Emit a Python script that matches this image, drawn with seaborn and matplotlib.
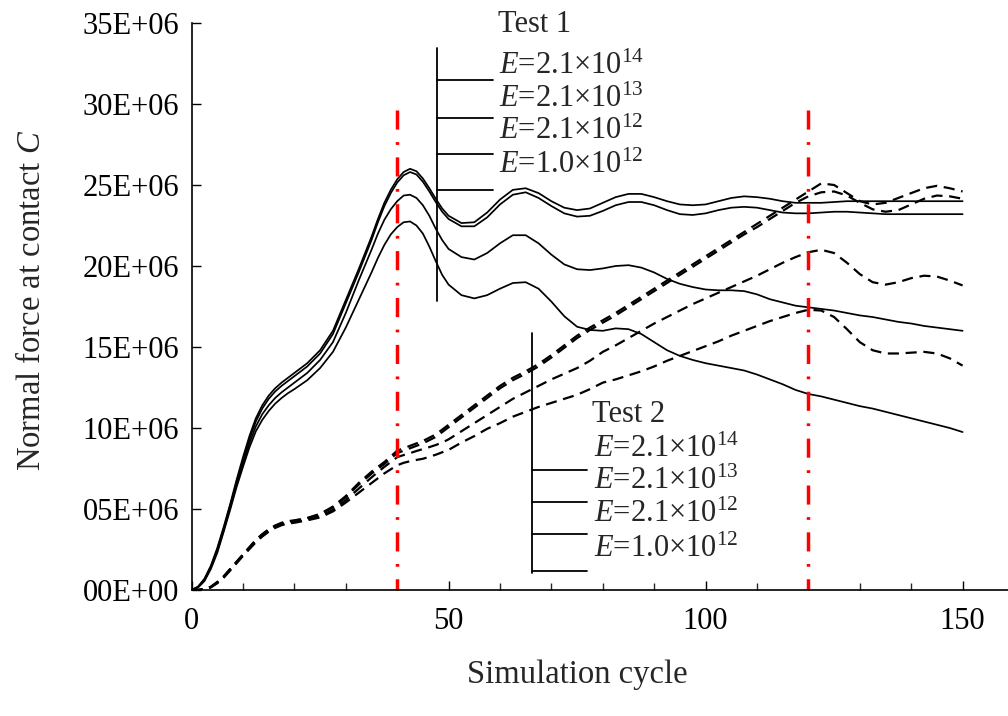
import numpy as np
import pandas as pd
import matplotlib
matplotlib.use("Agg")
import matplotlib.pyplot as plt
import seaborn as sns

# ---------------- data ----------------
cycle = [0, 1.25, 2.5, 3.75, 5, 6.25, 7.5, 8.75, 10, 11.25, 12.5, 13.75, 15, 16.25, 17.5, 18.75, 20,
         22.5, 25, 27.5, 30, 32.5, 35,
         36.25, 37.5, 38.75, 40, 41.25, 42.5, 43.75, 45, 46.25, 47.5, 48.75, 50,
         52.5, 55, 57.5, 60, 62.5, 65, 67.5, 70, 72.5, 75,
         77.5, 80, 82.5, 85, 87.5, 90, 92.5, 95, 97.5, 100,
         102.5, 105, 107.5, 110, 112.5, 115, 117.5, 120, 122.5, 125,
         127.5, 130, 132.5, 135, 137.5, 140, 142.5, 145, 147.5, 150]

# Test 1 (solid lines), values in units of 1E+06
t1_e14 = [0, 0.2, 0.7, 1.5, 2.6, 3.9, 5.3, 6.8, 8.2, 9.5, 10.6, 11.4, 12.0, 12.45, 12.8, 13.1, 13.4,
          14.0, 14.8, 16.0, 17.9, 19.8, 21.8,
          22.9, 23.9, 24.7, 25.35, 25.8, 26.0, 25.85, 25.4, 24.8, 24.15, 23.55, 23.1,
          22.65, 22.7, 23.3, 24.1, 24.7, 24.8, 24.5, 24.0, 23.6, 23.45,
          23.55, 23.9, 24.25, 24.45, 24.45, 24.25, 24.0, 23.8, 23.75, 23.8,
          24.0, 24.2, 24.3, 24.25, 24.15, 24.0, 23.9, 23.9, 23.9, 23.95,
          24.0, 24.0, 24.0, 24.0, 24.0, 24.0, 24.0, 24.0, 24.0, 24.0]
t1_e13 = [0, 0.2, 0.65, 1.45, 2.5, 3.8, 5.2, 6.65, 8.0, 9.3, 10.4, 11.2, 11.8, 12.25, 12.6, 12.9, 13.2,
          13.8, 14.6, 15.8, 17.7, 19.6, 21.6,
          22.7, 23.7, 24.5, 25.15, 25.6, 25.8, 25.65, 25.2, 24.6, 23.95, 23.35, 22.9,
          22.45, 22.45, 23.0, 23.8, 24.4, 24.55, 24.2, 23.7, 23.25, 23.05,
          23.1, 23.4, 23.75, 23.95, 23.95, 23.75, 23.45, 23.2, 23.15, 23.25,
          23.45, 23.6, 23.65, 23.6, 23.45, 23.3, 23.25, 23.25, 23.3, 23.35,
          23.35, 23.3, 23.25, 23.2, 23.2, 23.2, 23.2, 23.2, 23.2, 23.2]
t1_e12 = [0, 0.18, 0.6, 1.4, 2.4, 3.7, 5.05, 6.5, 7.8, 9.05, 10.1, 10.85, 11.4, 11.85, 12.2, 12.5, 12.8,
          13.4, 14.2, 15.3, 17.1, 19.1, 21.0,
          22.0, 22.85, 23.5, 24.0, 24.35, 24.4, 24.2, 23.75, 23.1, 22.3, 21.6, 21.05,
          20.55, 20.4, 20.8, 21.4, 21.9, 21.9, 21.4, 20.7, 20.1, 19.8,
          19.75, 19.85, 20.0, 20.05, 19.9, 19.6, 19.2, 18.9, 18.7, 18.55,
          18.5, 18.5, 18.45, 18.25, 17.95, 17.75, 17.55, 17.45, 17.35, 17.25,
          17.1, 16.95, 16.85, 16.7, 16.55, 16.45, 16.3, 16.2, 16.1, 16.0]
t1_e12b = [0, 0.15, 0.55, 1.3, 2.3, 3.6, 4.95, 6.35, 7.6, 8.8, 9.8, 10.5, 11.05, 11.5, 11.85, 12.15, 12.4,
           12.95, 13.7, 14.7, 16.2, 17.9, 19.6,
           20.5, 21.3, 21.95, 22.4, 22.7, 22.75, 22.5, 22.0, 21.2, 20.3, 19.45, 18.85,
           18.2, 18.0, 18.2, 18.6, 18.95, 19.0, 18.6, 17.8, 16.9, 16.25,
           16.05, 16.0, 16.15, 16.1, 15.8, 15.3, 14.8, 14.45, 14.2, 14.0,
           13.85, 13.7, 13.55, 13.3, 13.0, 12.7, 12.35, 12.1, 11.95, 11.75,
           11.55, 11.35, 11.2, 11.0, 10.8, 10.6, 10.4, 10.2, 10.0, 9.75]

# Test 2 (dashed lines), values in units of 1E+06
t2_e14 = [0, 0.0, 0.05, 0.2, 0.5, 0.85, 1.3, 1.75, 2.2, 2.65, 3.1, 3.45, 3.75, 3.98, 4.15, 4.25, 4.3,
          4.45, 4.7, 5.15, 5.8, 6.6, 7.3,
          7.6, 7.9, 8.25, 8.6, 8.75, 8.9, 9.05, 9.2, 9.4, 9.6, 9.9, 10.2,
          10.8, 11.4, 12.0, 12.6, 13.1, 13.5, 13.95, 14.5, 15.1, 15.7,
          16.2, 16.65, 17.1, 17.6, 18.1, 18.6, 19.1, 19.6, 20.1, 20.6,
          21.1, 21.6, 22.1, 22.6, 23.1, 23.6, 24.1, 24.6, 25.1, 25.0,
          24.5, 24.0, 23.8, 23.9, 24.2, 24.5, 24.8, 24.95, 24.8, 24.6]
t2_e13 = [0, 0.0, 0.05, 0.19, 0.48, 0.83, 1.28, 1.72, 2.18, 2.62, 3.07, 3.42, 3.72, 3.95, 4.12, 4.22, 4.27,
          4.42, 4.66, 5.1, 5.72, 6.5, 7.18,
          7.48, 7.78, 8.12, 8.45, 8.6, 8.75, 8.9, 9.05, 9.25, 9.45, 9.75, 10.05,
          10.65, 11.25, 11.85, 12.45, 12.95, 13.35, 13.8, 14.35, 14.95, 15.55,
          16.05, 16.5, 16.95, 17.45, 17.95, 18.45, 18.95, 19.45, 19.95, 20.45,
          20.95, 21.45, 21.95, 22.4, 22.9, 23.4, 23.9, 24.3, 24.55, 24.6,
          24.35, 23.9, 23.5, 23.35, 23.45, 23.8, 24.15, 24.35, 24.3, 24.15]
t2_e12 = [0, 0.0, 0.05, 0.18, 0.45, 0.8, 1.25, 1.7, 2.15, 2.58, 3.0, 3.35, 3.65, 3.88, 4.05, 4.15, 4.2,
          4.35, 4.55, 4.95, 5.55, 6.25, 6.95,
          7.28, 7.6, 7.9, 8.2, 8.33, 8.45, 8.58, 8.7, 8.82, 8.95, 9.1, 9.3,
          9.8, 10.3, 10.8, 11.3, 11.8, 12.2, 12.6, 13.0, 13.35, 13.7,
          14.15, 14.7, 15.1, 15.55, 16.0, 16.45, 16.85, 17.25, 17.65, 18.0,
          18.35, 18.7, 19.05, 19.4, 19.8, 20.2, 20.55, 20.85, 21.0, 20.8,
          20.2, 19.5, 19.0, 18.85, 19.0, 19.25, 19.4, 19.35, 19.1, 18.8]
t2_e12b = [0, 0.0, 0.04, 0.16, 0.42, 0.76, 1.2, 1.65, 2.1, 2.52, 2.95, 3.3, 3.6, 3.83, 4.0, 4.1, 4.15,
           4.3, 4.48, 4.85, 5.4, 6.0, 6.6,
           6.9, 7.2, 7.45, 7.7, 7.85, 7.95, 8.03, 8.1, 8.22, 8.35, 8.5, 8.65,
           9.1, 9.5, 9.95, 10.3, 10.7, 11.0, 11.3, 11.55, 11.8, 12.05,
           12.4, 12.8, 13.0, 13.25, 13.5, 13.8, 14.15, 14.45, 14.75, 15.05,
           15.35, 15.7, 16.0, 16.3, 16.6, 16.85, 17.1, 17.3, 17.25, 16.85,
           16.1, 15.3, 14.8, 14.6, 14.6, 14.65, 14.7, 14.6, 14.3, 13.85]

e_labels = [r"$E$=2.1×10$^{14}$", r"$E$=2.1×10$^{13}$", r"$E$=2.1×10$^{12}$", r"$E$=1.0×10$^{12}$"]
tests = ["Test 1", "Test 2"]
marked_cycles = [40, 120]
marked_top = 29.6e6
y_ticks = [0, 5e6, 10e6, 15e6, 20e6, 25e6, 30e6, 35e6]
y_tick_labels = ["00E+00", "05E+06", "10E+06", "15E+06", "20E+06", "25E+06", "30E+06", "35E+06"]
x_ticks = [0, 50, 100, 150]

series = {
    ("Test 1", e_labels[0]): t1_e14, ("Test 1", e_labels[1]): t1_e13,
    ("Test 1", e_labels[2]): t1_e12, ("Test 1", e_labels[3]): t1_e12b,
    ("Test 2", e_labels[0]): t2_e14, ("Test 2", e_labels[1]): t2_e13,
    ("Test 2", e_labels[2]): t2_e12, ("Test 2", e_labels[3]): t2_e12b,
}
rows = []
for (test, lab), vals in series.items():
    for c, v in zip(cycle, vals):
        rows.append({"cycle": c, "force": v * 1e6, "test": test, "E": lab})
df = pd.DataFrame(rows)

# ---------------- style ----------------
sns.set_style("ticks")
plt.rcParams["font.family"] = ["Liberation Serif", "DejaVu Serif"]
plt.rcParams["mathtext.fontset"] = "custom"
plt.rcParams["mathtext.rm"] = "Liberation Serif"
plt.rcParams["mathtext.it"] = "Liberation Serif:italic"
FS = 22
FS_LAB = 23.5

fig = plt.figure(figsize=(10.08, 7.16), dpi=100)
L, B = 191.6 / 1008, 126 / 716
W, H = 822.4 / 1008, 567 / 716
ax = fig.add_axes([L, B, W, H])

black = {lab: "black" for lab in e_labels}
sns.lineplot(data=df[df["test"] == tests[0]], x="cycle", y="force", hue="E",
             palette=black, linewidth=1.25, legend=False, ax=ax,
             sort=False, estimator=None)
sns.lineplot(data=df[df["test"] == tests[1]], x="cycle", y="force", hue="E",
             palette=black, linewidth=1.6, linestyle=(0, (5, 3)), legend=False, ax=ax,
             sort=False, estimator=None)

# red dash-dot markers, drawn from the top down
ax.vlines(marked_cycles, marked_top, 0, colors="#ff0000", linewidth=2.5,
          linestyles=[(0, (5.5, 3.6, 0.8, 3.6))])

ax.set_xlim(0, 160)
ax.set_ylim(0, 35e6)
ax.set_xticks(x_ticks)
ax.set_xticks(np.arange(0, 161, 10), minor=True)
ax.set_yticks(y_ticks)
ax.set_yticklabels(y_tick_labels)
ax.tick_params(axis="both", which="major", direction="in", length=6.5, width=1.0,
               labelsize=FS, colors="black")
ax.tick_params(axis="y", which="major", pad=9)
ax.tick_params(axis="x", which="major", pad=12)
ax.tick_params(axis="x", which="minor", direction="in", length=5, width=1.0)
for s in ["top", "right"]:
    ax.spines[s].set_visible(False)
for s in ["left", "bottom"]:
    ax.spines[s].set_linewidth(1.2)
    ax.spines[s].set_color("black")

ax.set_xlabel("Simulation cycle", fontsize=FS_LAB)
ax.set_ylabel(r"Normal force at contact $C$", fontsize=FS_LAB)
ax.xaxis.set_label_coords(0.4686, -0.122)
ax.yaxis.set_label_coords(-0.176, 0.511)

# ---------------- in-plot key blocks ----------------
T = ax.transAxes
def key_block(xv, ytop, ybot, xr, ylines, title_xy, label_x, label_ys, title):
    ax.plot([xv, xv], [ytop, ybot], color="black", lw=1.3, transform=T, clip_on=False)
    for yl in ylines:
        ax.plot([xv, xr], [yl, yl], color="black", lw=1.3, transform=T, clip_on=False)
    ax.text(title_xy[0], title_xy[1], title, transform=T, fontsize=FS, va="baseline", ha="left")
    for lab, yb in zip(e_labels, label_ys):
        ax.text(label_x, yb, lab, transform=T, fontsize=FS, va="baseline", ha="left")

key_block(0.299, 0.9554, 0.5097, 0.3661, [0.8995, 0.8319, 0.7690, 0.7060],
          (0.3726, 0.9836), 0.3738, [0.9101, 0.8513, 0.7949, 0.7360], tests[0])
key_block(0.4135, 0.4533, 0.0300, 0.4804, [0.2116, 0.1557, 0.0988, 0.0340],
          (0.4865, 0.2968), 0.4893, [0.2340, 0.1775, 0.1205, 0.0587], tests[1])

fig.savefig("out.png", dpi=100)
